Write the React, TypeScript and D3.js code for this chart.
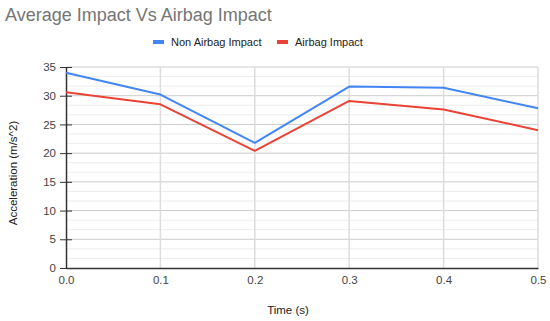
import React, { useRef, useEffect } from "react";
import * as d3 from "d3";

const times = [0.0, 0.1, 0.2, 0.3, 0.4, 0.5];
const nonAirbag = [34.0, 30.2, 21.8, 31.6, 31.4, 27.8];
const airbag = [30.6, 28.5, 20.4, 29.1, 27.6, 24.0];
const yTickValues = [0, 5, 10, 15, 20, 25, 30, 35];
const seriesNames = ["Non Airbag Impact", "Airbag Impact"];
const seriesColors = ["#4285F4", "#EA4335"];

const width = 550;
const height = 321;
const margin = { top: 67, right: 12, bottom: 53, left: 66 };
const font = "'Liberation Sans', Arial, sans-serif";

const App = () => {
  const ref: any = useRef();

  useEffect(() => {
    const svg = d3.select(ref.current);
    svg.selectAll("*").remove();

    const xScale = d3
      .scaleLinear()
      .domain([0, 0.5])
      .range([margin.left, width - margin.right]);
    const yScale = d3
      .scaleLinear()
      .domain([0, 35])
      .range([height - margin.bottom, margin.top]);

    // minor gridlines (3 per major step)
    const minor: number[] = [];
    for (let i = 0; i < 21; i++) {
      if (i % 3 !== 0) minor.push((i * 5) / 3);
    }
    svg
      .append("g")
      .selectAll("line")
      .data(minor)
      .enter()
      .append("line")
      .attr("x1", margin.left)
      .attr("x2", width - margin.right)
      .attr("y1", (d: any) => yScale(d))
      .attr("y2", (d: any) => yScale(d))
      .attr("stroke", "#ededed")
      .attr("stroke-width", 1);

    // major horizontal gridlines
    svg
      .append("g")
      .selectAll("line")
      .data(yTickValues.slice(1))
      .enter()
      .append("line")
      .attr("x1", margin.left)
      .attr("x2", width - margin.right)
      .attr("y1", (d: any) => yScale(d))
      .attr("y2", (d: any) => yScale(d))
      .attr("stroke", "#cccccc")
      .attr("stroke-width", 1);

    // vertical gridlines
    svg
      .append("g")
      .selectAll("line")
      .data(times.slice(1))
      .enter()
      .append("line")
      .attr("x1", (d: any) => xScale(d))
      .attr("x2", (d: any) => xScale(d))
      .attr("y1", margin.top)
      .attr("y2", height - margin.bottom)
      .attr("stroke", "#dddddd")
      .attr("stroke-width", 1.5);

    // y axis
    const yAxis = svg
      .append("g")
      .attr("transform", "translate(" + margin.left + ",0)")
      .call(d3.axisLeft(yScale).tickValues(yTickValues).tickSize(0).tickPadding(10));
    yAxis.select(".domain").attr("stroke", "#333").attr("stroke-width", 1.5);
    yAxis
      .selectAll(".tick line")
      .attr("x1", -6)
      .attr("x2", 6)
      .attr("stroke", "#333");
    yAxis
      .selectAll(".tick text")
      .attr("fill", "#444")
      .attr("font-size", 11.5)
      .attr("font-family", font);

    // x axis
    const xAxis = svg
      .append("g")
      .attr("transform", "translate(0," + (height - margin.bottom) + ")")
      .call(
        d3
          .axisBottom(xScale)
          .tickValues(times)
          .tickFormat(d3.format(".1f"))
          .tickSize(0)
          .tickPadding(8)
      );
    xAxis.select(".domain").attr("stroke", "#333").attr("stroke-width", 1.5);
    xAxis
      .selectAll(".tick text")
      .attr("fill", "#444")
      .attr("font-size", 11.5)
      .attr("font-family", font);

    // lines
    const seriesData = [nonAirbag, airbag];
    const line = d3
      .line<number>()
      .x((_d: any, i: number) => xScale(times[i]))
      .y((d: any) => yScale(d));
    seriesData.forEach((values, s) => {
      svg
        .append("path")
        .datum(values)
        .attr("d", line)
        .attr("fill", "none")
        .attr("stroke", seriesColors[s])
        .attr("stroke-width", 2)
        .attr("stroke-linejoin", "round");
    });

    // title
    svg
      .append("text")
      .attr("x", 5)
      .attr("y", 21)
      .attr("fill", "#757575")
      .attr("font-size", 18)
      .attr("font-family", font)
      .text("Average Impact Vs Airbag Impact");

    // legend
    const legendX = [153, 277];
    seriesNames.forEach((name, i) => {
      svg
        .append("rect")
        .attr("x", legendX[i])
        .attr("y", 40)
        .attr("width", 11)
        .attr("height", 4)
        .attr("fill", seriesColors[i]);
      svg
        .append("text")
        .attr("x", legendX[i] + 18)
        .attr("y", 46)
        .attr("fill", "#222")
        .attr("font-size", 11)
        .attr("font-family", font)
        .text(name);
    });

    // axis titles
    svg
      .append("text")
      .attr("x", 288)
      .attr("y", 314)
      .attr("text-anchor", "middle")
      .attr("fill", "#222")
      .attr("font-size", 11.5)
      .attr("font-family", font)
      .text("Time (s)");
    svg
      .append("text")
      .attr("transform", "translate(17,173) rotate(-90)")
      .attr("text-anchor", "middle")
      .attr("fill", "#222")
      .attr("font-size", 11.5)
      .attr("font-family", font)
      .text("Acceleration (m/s^2)");
  }, []);

  return (
    <svg
      ref={ref}
      width={width}
      height={height}
      style={{ position: "absolute", left: 0, top: 0, background: "#fff" }}
    ></svg>
  );
};

export default App;
